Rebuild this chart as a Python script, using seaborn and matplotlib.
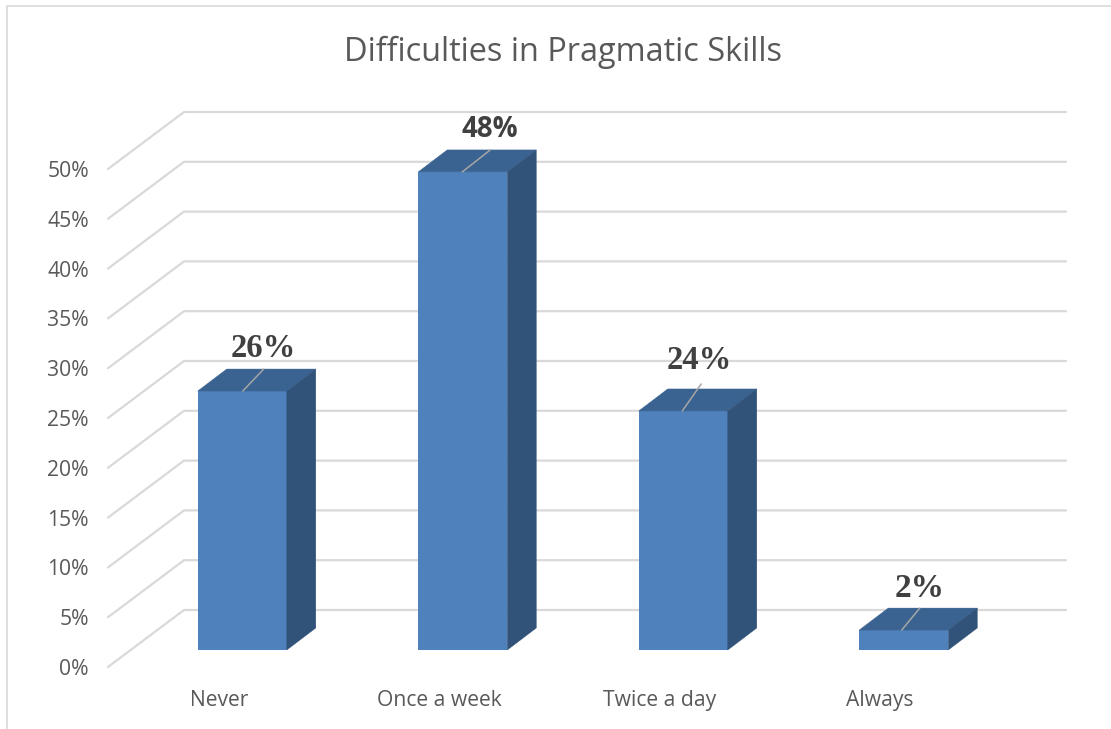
import matplotlib
matplotlib.use("Agg")
import matplotlib.pyplot as plt
from matplotlib.lines import Line2D
from matplotlib.patches import Polygon
from matplotlib.transforms import ScaledTranslation
import seaborn as sns

categories = ["Never", "Once a week", "Twice a day", "Always"]
values = [26, 48, 24, 2]
value_labels = ["26%", "48%", "24%", "2%"]
y_ticks = [0, 5, 10, 15, 20, 25, 30, 35, 40, 45, 50]
title = "Difficulties in Pragmatic Skills"

W, H = 1111, 729
FRONT, TOP, SIDE = "#4F81BD", "#3A6391", "#315279"
GRID, TXT = "#D9D9D9", "#595959"

sns.set_theme(style="white")
plt.rcParams["font.family"] = ["Open Sans", "DejaVu Sans"]

fig = plt.figure(figsize=(W / 100, H / 100), dpi=100, facecolor="white")
L, R, T, B = 132.0, 1014.0, 152.0, 650.0
ax = fig.add_axes([L / W, 1 - B / H, (R - L) / W, (B - T) / H])

sns.barplot(x=categories, y=values, color=FRONT, saturation=1, width=0.404, ax=ax, zorder=4,
            edgecolor="none", linewidth=0)
ax.set_xlim(-0.5, 3.5)
ax.set_ylim(0, 50)
ax.set_xlabel("")
ax.set_ylabel("")
for s in ax.spines.values():
    s.set_visible(False)
ax.patch.set_alpha(0)

pxx = (R - L) / 4
pxy = (B - T) / 50
X = lambda px: (px - L) / pxx - 0.5
DY = lambda px: px / pxy

# walls and gridlines
for v in y_ticks:
    y_back = v + DY(40)
    y_front = v + DY(-17)
    ax.plot([X(108), X(184), X(1066)], [y_front, y_back, y_back], color=GRID, lw=1.6,
            clip_on=False, zorder=1, solid_joinstyle="miter")

# 3D bar faces
ddx, ddy = 29 / pxx, DY(22)
for bar in ax.patches[:len(values)]:
    x0, w, h = bar.get_x(), bar.get_width(), bar.get_height()
    x1 = x0 + w
    ax.add_patch(Polygon([(x0, h), (x1, h), (x1 + ddx, h + ddy), (x0 + ddx, h + ddy)],
                         closed=True, fc=TOP, ec=TOP, lw=0.3, clip_on=False, zorder=4))
    ax.add_patch(Polygon([(x1, 0), (x1 + ddx, ddy), (x1 + ddx, h + ddy), (x1, h)],
                         closed=True, fc=SIDE, ec=SIDE, lw=0.3, clip_on=False, zorder=4))
    bar.set_clip_on(False)

# data labels with leader lines
label_offsets = [(20.5, 43), (27.5, 42), (16, 50), (16, 42)]
leader_starts = [0.5, -0.5, -1, -2]
leader_ends = [(21, 22), (28, 22), (19, 27), (18, 22)]
label_fonts = ["Liberation Serif", "Open Sans", "Liberation Serif", "Liberation Serif"]
label_sizes = [23.5, 20, 23.5, 24]
for i, (v, lab, off) in enumerate(zip(values, value_labels, label_offsets)):
    xs = i + leader_starts[i] / pxx
    ax.plot([xs, xs + leader_ends[i][0] / pxx], [v, v + DY(leader_ends[i][1])],
            color="#A6A6A6", lw=1.1, clip_on=False, zorder=5)
    ax.annotate(lab, (i, v), xytext=(off[0] * 0.72, off[1] * 0.72), textcoords="offset points",
                ha="center", va="center", fontsize=label_sizes[i], fontweight="bold",
                family=label_fonts[i], color="#404040", zorder=6, annotation_clip=False)

# tick labels
ax.set_yticks(y_ticks)
ax.set_yticklabels([f"{v}%" for v in y_ticks], fontsize=15.2, color=TXT)
ax.set_xticks(range(len(categories)))
ax.set_xticklabels(categories, fontsize=15.2, color=TXT)
ax.tick_params(axis="both", length=0)
ax.tick_params(axis="y", pad=31)
ax.tick_params(axis="x", pad=29)
for lab in ax.get_yticklabels():
    lab.set_transform(lab.get_transform() + ScaledTranslation(0, -17 / 100, fig.dpi_scale_trans))
for lab in ax.get_xticklabels():
    lab.set_transform(lab.get_transform() + ScaledTranslation(-23.5 / 100, 0, fig.dpi_scale_trans))

fig.text(563.5 / W, 1 - 52 / H, title, ha="center", va="center", fontsize=23.4, color=TXT)

# chart frame: left and top edges only
fig.add_artist(Line2D([7 / W, 7 / W, 1], [0, 1 - 5.5 / H, 1 - 5.5 / H], transform=fig.transFigure,
                      color=GRID, lw=1.2, solid_joinstyle="miter"))

fig.savefig("out.png", dpi=100)
